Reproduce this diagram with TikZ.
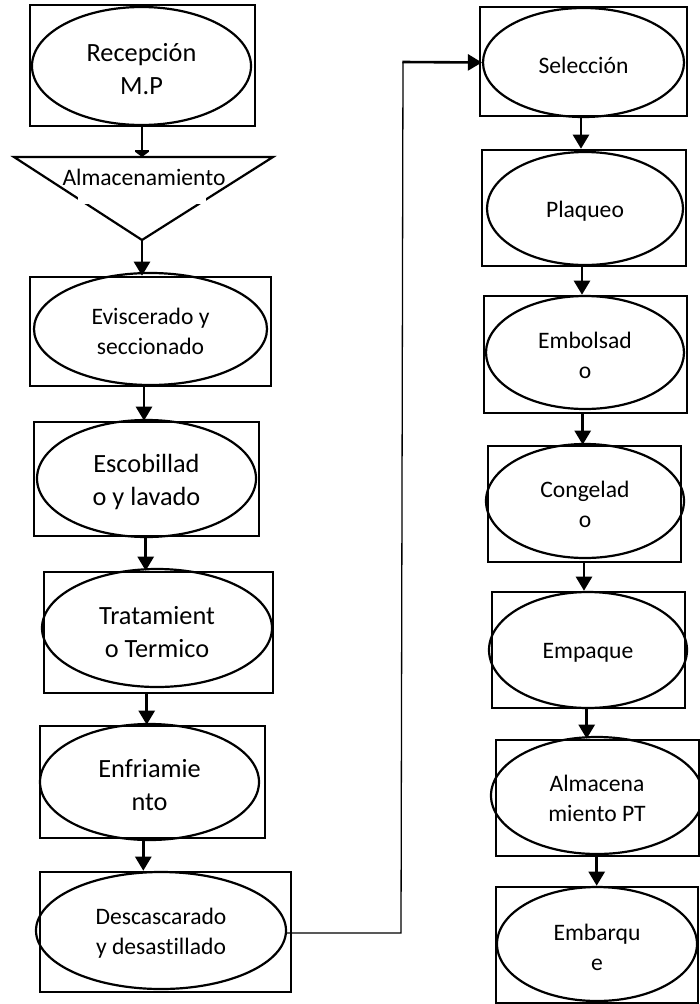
\documentclass[tikz,border=0pt]{standalone}
\usepackage{fontspec}
\setmainfont{Carlito}[Ligatures=NoCommon]
\usetikzlibrary{shapes.geometric,arrows.meta}
\begin{document}
\begin{tikzpicture}[x=1pt,y=-1pt,
  rbox/.style={draw, rectangle, line width=2.6pt, inner sep=0pt},
  ell/.style={draw, ellipse, line width=2.2pt, inner sep=0pt},
  lbl/.style={inner sep=0pt, align=center},
  big/.style={font=\fontsize{26.3}{33}\selectfont},
  small/.style={font=\fontsize{23.6}{30}\selectfont},
  arr/.style={line width=2.6pt, -{Triangle[width=16pt,length=14pt]}},
  thinline/.style={line width=1.3pt}
]
\useasboundingbox (0,0) rectangle (700,1004);

% ---- left column ----
\node[rbox, minimum width=225pt, minimum height=121pt] (r1) at (142.5,65.5) {};
\node[ell, minimum width=219pt, minimum height=118pt] (e1) at (141.5,66) {};
\node[lbl, big] (l1) at ([yshift=-3pt]e1.center) {Recepción\\M.P};

% storage triangle
\coordinate (tTop) at (142,157);
\coordinate (tApex) at (142,240);
\draw[line width=2.2pt, line join=miter] (14,157) -- (273,157) -- (tApex) -- cycle;
\fill[white] (78,160) rectangle (206,204);
\node[small, inner sep=0pt] (t1) at (144,177) {Almacenamiento};

\node[rbox, minimum width=241pt, minimum height=109pt] (r2) at (150.5,331.5) {};
\node[ell, minimum width=233pt, minimum height=112pt] (e2) at (150.5,329) {};
\node[lbl, small] (l2) at ([yshift=-2pt]e2.center) {Eviscerado y\\seccionado};

\node[rbox, minimum width=225pt, minimum height=114pt] (r3) at (146.5,479) {};
\node[ell, minimum width=219pt, minimum height=117pt] (e3) at (146.5,478.5) {};
\node[lbl, big] (l3) at ([yshift=-3pt]e3.center) {Escobillad\\o y lavado};

\node[rbox, minimum width=229pt, minimum height=121pt] (r4) at (158.5,632.5) {};
\node[ell, minimum width=230pt, minimum height=118pt] (e4) at (157,628) {};
\node[lbl, big] (l4) at ([yshift=-4pt]e4.center) {Tratamient\\o Termico};

\node[rbox, minimum width=225pt, minimum height=112pt] (r5) at (152.5,782) {};
\node[ell, minimum width=219pt, minimum height=116pt] (e5) at (149.5,782) {};
\node[lbl, big] (l5) at ([yshift=-3pt]e5.center) {Enfriamie\\nto};

\node[rbox, minimum width=251pt, minimum height=120pt] (r6) at (165.5,932) {};
\node[ell, minimum width=250pt, minimum height=117pt] (e6) at (161,930.5) {};
\node[lbl, small] (l6) at ([yshift=-3pt]e6.center) {Descascarado\\y desastillado};

% ---- right column ----
\node[rbox, minimum width=207pt, minimum height=109pt] (r7) at (583.5,61.5) {};
\node[ell, minimum width=201pt, minimum height=109pt] (e7) at (583.5,62.5) {};
\node[lbl, small] (l7) at ([yshift=-3pt]e7.center) {Selección};

\node[rbox, minimum width=204pt, minimum height=116pt] (r8) at (584,208) {};
\node[ell, minimum width=196pt, minimum height=113pt] (e8) at (585,208.5) {};
\node[lbl, small] (l8) at ([yshift=-3pt]e8.center) {Plaqueo};

\node[rbox, minimum width=203pt, minimum height=117pt] (r9) at (585.5,354.5) {};
\node[ell, minimum width=198pt, minimum height=113pt] (e9) at (585,352.5) {};
\node[lbl, small] (l9) at ([yshift=-3pt]e9.center) {Embolsad\\o};

\node[rbox, minimum width=193pt, minimum height=116pt] (r10) at (584.5,504) {};
\node[ell, minimum width=198pt, minimum height=114pt] (e10) at (585,501) {};
\node[lbl, small] (l10) at ([yshift=-3pt]e10.center) {Congelad\\o};

\node[rbox, minimum width=193pt, minimum height=116pt] (r11) at (588.5,650) {};
\node[ell, minimum width=198pt, minimum height=116pt] (e11) at (588,650) {};
\node[lbl, small] (l11) at ([yshift=-3pt]e11.center) {Empaque};

\node[rbox, minimum width=203pt, minimum height=116pt] (r12) at (597.5,798) {};
\node[ell, minimum width=212pt, minimum height=117pt] (e12) at (597,795.5) {};
\node[lbl, small] (l12) at ([yshift=-3pt]e12.center) {Almacena\\miento PT};

\node[rbox, minimum width=202pt, minimum height=116pt] (r13) at (597,945) {};
\node[ell, minimum width=200pt, minimum height=114pt] (e13) at (597,944) {};
\node[lbl, small] (l13) at ([yshift=-3pt]e13.center) {Embarqu\\e};

% ---- connectors ----
\draw[line width=2.5pt, -{Bar[width=14pt,line width=1.6pt]Triangle[width=13pt,length=5pt]}] (r1.south -| tTop) -- (tTop);
\draw[arr] (tApex) -- (tApex |- r2.north);
\draw[arr] ([xshift=-6.5pt]r2.south) -- ([xshift=-6.5pt]r2.south |- r3.north);
\draw[arr] ([xshift=-0.8pt]r3.south) -- ([xshift=-0.8pt]r3.south |- r4.north);
\draw[arr] ([xshift=-11.8pt]r4.south) -- ([xshift=-11.8pt]r4.south |- r5.north);
\draw[arr] ([xshift=-9.2pt]r5.south) -- ([xshift=-9.2pt]r5.south |- r6.north);

\coordinate (c1) at (401,933);
\coordinate (c2) at (403,62);
\draw[thinline] (e6.east |- c1) -- (c1) -- (c2);
\draw[arr] ([xshift=-0.6pt]c2) -- (e7.west);

\draw[arr] ([xshift=-2.5pt]r7.south) -- ([xshift=-2.5pt]r7.south |- r8.north);
\draw[arr] ([xshift=-2pt]r8.south) -- ([xshift=-2pt]r8.south |- r9.north);
\draw[arr] ([xshift=-2.8pt]r9.south) -- ([xshift=-2.8pt]r9.south |- r10.north);
\draw[arr] ([xshift=-0.5pt]r10.south) -- ([xshift=-0.5pt]r10.south |- r11.north);
\draw[arr] ([xshift=-1.8pt]r11.south) -- ([xshift=-1.8pt]r11.south |- r12.north);
\draw[arr] ([xshift=-0.8pt]r12.south) -- ([xshift=-0.8pt]r12.south |- r13.north);
\end{tikzpicture}
\end{document}
